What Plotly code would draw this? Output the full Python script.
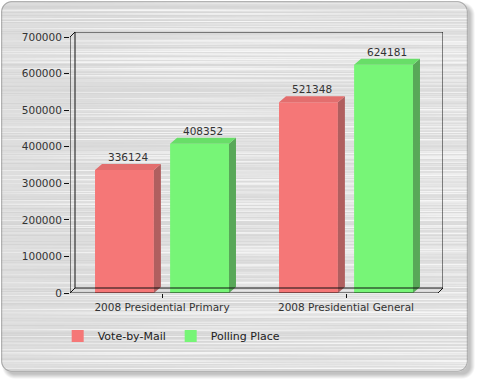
import base64, struct, zlib
import numpy as np
import plotly.graph_objects as go

# ---------------- data ----------------
categories = ["2008 Presidential Primary", "2008 Presidential General"]
series_names = ["Vote-by-Mail", "Polling Place"]
vote_by_mail = [336124, 521348]
polling_place = [408352, 624181]
y_ticks = [0, 100000, 200000, 300000, 400000, 500000, 600000, 700000]

# ---------------- geometry (pixels -> data) ----------------
W, H = 480, 384
L, R_ = 70, 37          # plot area left/right margins
T, B = 32, 91           # plot area top/bottom margins
PX_PER_CAT = 184.0
YMAX = 700000
PX_PER_Y = 256.0 / YMAX
FRAME_DX = 5 / PX_PER_CAT
FRAME_DY = 5 / PX_PER_Y
BAR_DX = 7 / PX_PER_CAT
BAR_DY = 6 / PX_PER_Y
BAR_W = 0.32
BAR_OFF = 0.204
xr = [-0.5, -0.5 + (W - L - R_) / PX_PER_CAT]
yr = [0, (H - T - B) / PX_PER_Y]

# ---------------- brushed-metal panel background (decorative) ----------------
def frac(a):
    return a - np.floor(a)

yy, xx = np.mgrid[0:H, 0:W].astype(float)
rowa = frac(np.sin(np.floor(yy) * 12.9898 + 1.3) * 43758.5453)
rowb = frac(np.sin(np.floor(yy) * 78.233 + 0.7) * 12345.678)
streak = 0.5 + 0.5 * np.sin(xx * (0.004 + 0.02 * rowb) + 6.283 * rowa)
tex = 212 + 14 * rowa + 18 * streak * rowa + 6 * (xx / W)
tex = np.clip(tex, 0, 250)

def rrect_sdf(x, y, x0, y0, x1, y1, r):
    cx = np.clip(x, x0 + r, x1 - r)
    cy = np.clip(y, y0 + r, y1 - r)
    return np.hypot(x - cx, y - cy) - r

px, py = xx + 0.5, yy + 0.5
d_panel = rrect_sdf(px, py, 1, 1, 468, 372, 11)
d_shadow = rrect_sdf(px, py, 4, 4, 473, 377, 11)
img = np.full((H, W), 255.0)
sh_a = np.clip(1 - (d_shadow + 3) / 5, 0, 1) * 0.45
img = img * (1 - sh_a) + 120 * sh_a
pa = np.clip(0.5 - d_panel, 0, 1)
img = img * (1 - pa) + tex * pa
ba = np.clip(1.0 - np.abs(d_panel + 0.7), 0, 1) * 0.8
img = img * (1 - ba) + 150 * ba
rgb = np.clip(img, 0, 255).astype(np.uint8)
rgba = np.dstack([rgb, rgb, rgb, np.full((H, W), 255, np.uint8)])

def to_png(arr):
    h, w, _ = arr.shape
    raw = b"".join(b"\x00" + arr[r].tobytes() for r in range(h))
    def chunk(t, d):
        return struct.pack(">I", len(d)) + t + d + struct.pack(">I", zlib.crc32(t + d) & 0xFFFFFFFF)
    return (b"\x89PNG\r\n\x1a\n" + chunk(b"IHDR", struct.pack(">IIBBBBB", w, h, 8, 6, 0, 0, 0))
            + chunk(b"IDAT", zlib.compress(raw, 9)) + chunk(b"IEND", b""))

bg_uri = "data:image/png;base64," + base64.b64encode(to_png(rgba)).decode()

# ---------------- figure ----------------
FONT = "DejaVu Sans"
front = ["#f57777", "#77f577"]
side = ["#b05f5f", "#58a858"]
top = ["#e36e6e", "#68de68"]
fig = go.Figure()

series_vals = [vote_by_mail, polling_place]
for si, (name, vals) in enumerate(zip(series_names, series_vals)):
    off = -BAR_OFF if si == 0 else BAR_OFF
    xs = [i + off for i in range(len(categories))]
    fig.add_trace(go.Bar(x=xs, y=vals, width=BAR_W, name=name,
                         marker=dict(color=front[si], line=dict(width=0)),
                         hoverinfo="y"))
    sx, sy, tx, ty = [], [], [], []
    for xc, v in zip(xs, vals):
        xl, xrt = xc - BAR_W / 2, xc + BAR_W / 2
        sx += [xrt, xrt + BAR_DX, xrt + BAR_DX, xrt, xrt, None]
        sy += [0, BAR_DY, v + BAR_DY, v, 0, None]
        tx += [xl, xrt, xrt + BAR_DX, xl + BAR_DX, xl, None]
        ty += [v, v, v + BAR_DY, v + BAR_DY, v, None]
        fig.add_annotation(x=xc + BAR_DX / 2, y=v + BAR_DY, text=str(v), showarrow=False,
                           yanchor="bottom", yshift=-1,
                           font=dict(family=FONT, size=10.5, color="#333333"))
    fig.add_trace(go.Scatter(x=sx, y=sy, fill="toself", fillcolor=side[si], mode="lines",
                             line=dict(width=0, color=side[si]), showlegend=False,
                             hoverinfo="skip", cliponaxis=False))
    fig.add_trace(go.Scatter(x=tx, y=ty, fill="toself", fillcolor=top[si], mode="lines",
                             line=dict(width=0, color=top[si]), showlegend=False,
                             hoverinfo="skip", cliponaxis=False))

# 3D frame lines
x0, x1 = -0.5, 1.5
lines = [
    (x0, 0, x0, YMAX),                                   # front left axis
    (x0, 0, x1, 0),                                      # front baseline
    (x0, YMAX, x0 + FRAME_DX, YMAX + FRAME_DY),          # top-left diagonal
    (x0, 0, x0 + FRAME_DX, FRAME_DY),                    # bottom-left diagonal
    (x1, 0, x1 + FRAME_DX, FRAME_DY),                    # bottom-right diagonal
    (x0 + FRAME_DX, FRAME_DY, x0 + FRAME_DX, YMAX + FRAME_DY),  # back left
    (x0 + FRAME_DX, YMAX + FRAME_DY, x1 + FRAME_DX, YMAX + FRAME_DY),  # back top
    (x1 + FRAME_DX, FRAME_DY, x1 + FRAME_DX, YMAX + FRAME_DY),  # back right
    (x0 + FRAME_DX, FRAME_DY, x1 + FRAME_DX, FRAME_DY),  # back floor
]
for (a, b, c, d) in lines:
    fig.add_shape(type="line", x0=a, y0=b, x1=c, y1=d, xref="x", yref="y",
                  line=dict(color="#111111", width=1), layer="above")

pw = W - L - R_
ph = H - T - B
fig.add_layout_image(source=bg_uri, xref="paper", yref="paper",
                     x=-L / pw, y=1 + T / ph, sizex=W / pw, sizey=H / ph,
                     xanchor="left", yanchor="top", sizing="stretch", layer="below")

fig.update_layout(
    width=W, height=H,
    margin=dict(l=L, r=R_, t=T, b=B, pad=0, autoexpand=False),
    paper_bgcolor="white", plot_bgcolor="rgba(0,0,0,0)",
    barmode="overlay",
    showlegend=True,
    legend=dict(orientation="h", x=-0.033, y=-0.165, xanchor="left", yanchor="middle",
                font=dict(family=FONT, size=11, color="#222222"),
                bgcolor="rgba(0,0,0,0)", entrywidth=68, entrywidthmode="pixels",
                itemclick=False),
    xaxis=dict(range=xr, tickvals=list(range(len(categories))), ticktext=categories,
               showgrid=False, zeroline=False, showline=False, ticks="outside",
               ticklen=4, tickcolor="#111111", automargin=False,
               tickfont=dict(family=FONT, size=10.5, color="#333333")),
    yaxis=dict(range=yr, tickvals=y_ticks, ticktext=[str(v) for v in y_ticks],
               showgrid=False, zeroline=False, showline=False, ticks="outside",
               ticklen=5, tickcolor="#111111", automargin=False,
               tickfont=dict(family=FONT, size=10.5, color="#333333")),
)

fig.write_html("out.html", config={"displayModeBar": False},
               post_script="document.body.style.margin='0';document.body.style.overflow='hidden';")
